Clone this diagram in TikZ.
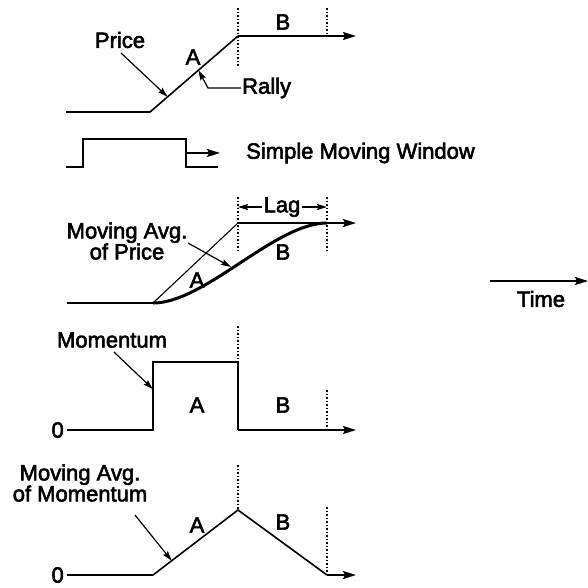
\documentclass[tikz,border=0pt]{standalone}
\usepackage{fontspec}
\setmainfont{Liberation Sans}
\newfontfamily\lblfont{Liberation Sans}[UprightFeatures={FakeBold=2.5}]
\usetikzlibrary{arrows.meta,calc}
\tikzset{
  curve/.style={line width=1.6pt},
  endarrow/.style={line width=1.6pt,-{Stealth[length=13pt,width=8pt,inset=2pt]}},
  ptr/.style={line width=1.2pt,-{Stealth[length=10pt,width=6pt,inset=1.5pt]}},
  guide/.style={line width=1.2pt,dash pattern=on 1.5pt off 2pt},
  lbl/.style={inner sep=1pt,font=\lblfont\fontsize{22}{21}\selectfont},
}
\begin{document}
\begin{tikzpicture}[x=1pt,y=-1pt]
\useasboundingbox (0,0) rectangle (588,587);
% ---------- Panel 1: Price ----------
\coordinate (p0) at (66,112);
\coordinate (p1) at (150,112);
\coordinate (p2) at (238,36);
\coordinate (p3) at (356,36);
\draw[curve] (p0) -- (p1) -- (p2);
\draw[endarrow] (p2) -- (p3);
\draw[guide] (238,8) -- (238,66);
\draw[guide] (327,8) -- (327,34);
\node[lbl] (pB) at (283,22) {B};
\node[lbl] (pA) at (193,57) {A};
\node[lbl] (price) at (120,40) {Price};
\node[lbl,anchor=west] (rally) at (241,88) {Rally};
\coordinate (priceStart) at (121,53);
\coordinate (priceTip) at ($(p1)!0.2!(p2)$);
\draw[ptr] (priceStart) -- (priceTip);
\coordinate (rallyTip) at ($(p1)!0.55!(p2)$);
\coordinate (rallyBend) at (208,88);
\draw[ptr] (rally.west) -- (rallyBend) -- (rallyTip);
% ---------- Panel 2: Window ----------
\coordinate (w0) at (66,167);
\coordinate (w1) at (83,167);
\coordinate (w2) at (83,139);
\coordinate (w3) at (186,139);
\coordinate (w4) at (186,167);
\coordinate (w5) at (218,167);
\draw[curve] (w0) -- (w1) -- (w2) -- (w3) -- (w4) -- (w5);
\coordinate (wa) at (186,153);
\coordinate (wb) at (220,153);
\draw[endarrow] (wa) -- (wb);
\node[lbl,anchor=west] (window) at (245,153) {Simple Moving Window};
% ---------- Panel 3: Moving average of price ----------
\coordinate (m0) at (67,303);
\coordinate (m1) at (153,303);
\coordinate (m2) at (238,223);
\coordinate (m3) at (356,223);
\coordinate (mEnd) at (327,223);
\draw[curve] (m0) -- (m1);
\draw[line width=1.1pt] (m1) -- (m2);
\draw[endarrow] (m2) -- (m3);
\draw[line width=3pt] (m1) .. controls (205,303) and (275,223) .. (mEnd);
\draw[guide] (238,197) -- (238,252);
\draw[guide] (327,197) -- (327,250);
\node[lbl] (lag) at (282,207) {Lag};
\coordinate (lagL) at (238,207);
\coordinate (lagR) at (327,207);
\draw[ptr] (lag.west) -- (lagL);
\draw[ptr] (lag.east) -- (lagR);
\node[lbl,align=center] (mavg) at (127,241) {Moving Avg.\\of Price};
\coordinate (mavgStart) at (188,243);
\coordinate (mavgTip) at (231,267);
\draw[ptr] (mavgStart) -- (mavgTip);
\node[lbl] (mA) at (197,280) {A};
\node[lbl] (mB) at (283,252) {B};
% ---------- Time ----------
\coordinate (t0) at (490,281);
\coordinate (t1) at (588,281);
\draw[endarrow] (t0) -- (t1);
\node[lbl] (time) at (541,299) {Time};
% ---------- Panel 4: Momentum ----------
\coordinate (q0) at (67,430);
\coordinate (q1) at (153,430);
\coordinate (q2) at (153,362);
\coordinate (q3) at (238,362);
\coordinate (q4) at (238,430);
\coordinate (q5) at (356,430);
\draw[curve] (q0) -- (q1) -- (q2) -- (q3) -- (q4);
\draw[endarrow] (q4) -- (q5);
\node[lbl,anchor=east] (zero1) at (65,430) {0};
\draw[guide] (238,326) -- (238,362);
\draw[guide] (327,390) -- (327,430);
\node[lbl] (mom) at (112,340) {Momentum};
\coordinate (momStart) at (114,352);
\coordinate (momTip) at ($(q1)!0.6!(q2)$);
\draw[ptr] (momStart) -- (momTip);
\node[lbl] (qA) at (197,405) {A};
\node[lbl] (qB) at (283,405) {B};
% ---------- Panel 5: Moving average of momentum ----------
\coordinate (r0) at (67,575);
\coordinate (r1) at (153,575);
\coordinate (r2) at (238,510);
\coordinate (r3) at (327,575);
\coordinate (r4) at (356,575);
\draw[curve] (r0) -- (r1) -- (r2) -- (r3);
\draw[endarrow] (r3) -- (r4);
\node[lbl,anchor=east] (zero2) at (65,575) {0};
\draw[guide] (238,465) -- (238,510);
\draw[guide] (327,507) -- (327,575);
\node[lbl,align=center] (mavg2) at (80,483) {Moving Avg.\\of Momentum};
\coordinate (mm2Start) at (135,515);
\coordinate (mm2Tip) at ($(r1)!0.22!(r2)$);
\draw[ptr] (mm2Start) -- (mm2Tip);
\node[lbl] (rA) at (197,525) {A};
\node[lbl] (rB) at (283,522) {B};
\end{tikzpicture}
\end{document}
